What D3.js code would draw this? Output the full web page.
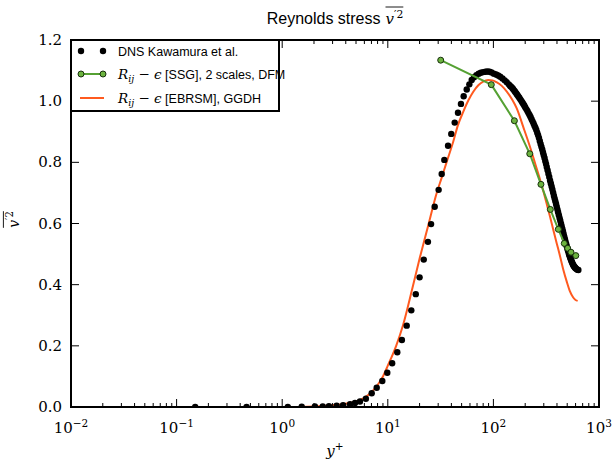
<!DOCTYPE html>
<html>
<head>
<meta charset="utf-8">
<script src="https://cdn.jsdelivr.net/npm/d3@7"></script>
<style>
  body { margin: 0; background: #fff; }
  svg { display: block; }
</style>
</head>
<body>
<script>
// DNS Kawamura et al. (y+, v'2)
const dnsYplus = [0.15, 0.46, 1.13, 1.53, 2.04, 2.42, 2.77, 3.28, 3.77, 4.39, 4.89, 5.45, 6.2, 7.04, 7.85, 8.87, 9.89, 11.0, 12.3, 13.6, 15.1, 16.7, 18.4, 20.0, 21.9, 24.0, 25.7, 27.8, 30.3, 32.4, 34.3, 37.2, 39.9, 43.0, 46.2, 49.3, 52.3, 55.9, 59.2, 62.3,
  65.5, 69, 72.5, 76, 80, 84, 88, 92, 96, 101, 106, 111, 116, 122, 128, 134,
  140, 144, 147, 151, 154, 158, 161, 165, 168, 172, 176, 180, 184, 188, 192, 196,
  200, 205, 210, 215, 220, 225, 230, 235, 240, 245, 250, 255, 260, 265, 270, 275, 280, 285, 290, 295, 300, 305, 310, 315, 320, 326, 332, 338, 344, 350, 356, 362, 368, 374, 380, 386, 392, 398, 404, 410, 417, 424, 430, 437, 443, 450, 456, 463, 469, 476, 482, 489, 495, 502, 508, 515, 521, 528, 534, 541, 547, 554, 560, 567, 573, 580, 586, 593, 599, 612, 625, 638];
const dnsV = [0, 0, 0.0005, 0.001, 0.0015, 0.002, 0.003, 0.004, 0.006, 0.009, 0.013, 0.018, 0.027, 0.045, 0.063, 0.085, 0.112, 0.143, 0.179, 0.219, 0.266, 0.316, 0.369, 0.424, 0.482, 0.540, 0.598, 0.655, 0.710, 0.762, 0.808, 0.854, 0.893, 0.930, 0.962, 0.991, 1.016, 1.038, 1.055, 1.069,
  1.078, 1.085, 1.090, 1.093, 1.095, 1.096, 1.097, 1.096, 1.094, 1.090, 1.087, 1.084, 1.080, 1.074, 1.068, 1.062,
  1.055, 1.050, 1.047, 1.043, 1.039, 1.034, 1.030, 1.025, 1.021, 1.016, 1.011, 1.006, 1.001, 0.996, 0.991, 0.986,
  0.980, 0.974, 0.968, 0.961, 0.955, 0.948, 0.941, 0.934, 0.927, 0.920, 0.913, 0.906, 0.897, 0.889, 0.880, 0.870, 0.860, 0.851, 0.842, 0.832, 0.823, 0.814, 0.804, 0.795, 0.785, 0.774, 0.763, 0.752, 0.741, 0.731, 0.721, 0.711, 0.701, 0.691, 0.682, 0.673, 0.664, 0.655, 0.646, 0.637, 0.627, 0.617, 0.609, 0.599, 0.591, 0.582, 0.574, 0.565, 0.557, 0.549, 0.541, 0.533, 0.526, 0.518, 0.512, 0.505, 0.499, 0.493, 0.488, 0.483, 0.478, 0.474, 0.470, 0.466, 0.463, 0.460, 0.458, 0.456, 0.454, 0.451, 0.449, 0.448];

// Rij-eps [SSG], 2 scales, DFM
const ssgYplus = [31.7, 95.5, 158, 221, 282, 346, 412, 469, 505, 543, 603];
const ssgV = [1.134, 1.054, 0.936, 0.828, 0.728, 0.646, 0.581, 0.535, 0.519, 0.506, 0.495];

// Rij-eps [EBRSM], GGDH
const ebYplus = [0.1, 0.5, 1, 2, 3, 4, 5, 6, 7, 8, 9, 10, 12, 14, 17, 20.2, 24, 29, 32.4, 36, 41.7, 46, 51.9, 58, 64.5, 72, 80, 89.5, 98, 107, 120, 134, 150, 166, 192, 220, 248, 272, 297, 320, 344, 370, 398, 430, 460, 495, 531, 570, 600, 628];
const ebV = [0, 0, 0.0002, 0.002, 0.006, 0.011, 0.018, 0.03, 0.048, 0.072, 0.1, 0.135, 0.2, 0.27, 0.385, 0.491, 0.59, 0.699, 0.75, 0.8, 0.868, 0.92, 0.966, 1.003, 1.031, 1.052, 1.064, 1.069, 1.068, 1.062, 1.05, 1.031, 1.006, 0.977, 0.915, 0.855, 0.797, 0.752, 0.706, 0.664, 0.622, 0.578, 0.535, 0.49, 0.448, 0.41, 0.378, 0.358, 0.35, 0.347];

const xDecades = [-2, -1, 0, 1, 2, 3];
const yTicks = [0.0, 0.2, 0.4, 0.6, 0.8, 1.0, 1.2];

const W = 613, H = 465;
const margin = {left: 71, right: 14, top: 40, bottom: 58};

const svg = d3.select("body").append("svg")
    .attr("width", W)
    .attr("height", H);

const x = d3.scaleLog().domain([1e-2, 1e3]).range([margin.left, W - margin.right]);
const y = d3.scaleLinear().domain([0, 1.2]).range([H - margin.bottom, margin.top]);
const x0 = x.range()[0], x1 = x.range()[1], y0 = y.range()[0], y1 = y.range()[1];

const serif = "'DejaVu Serif', serif";
const sans = "'Liberation Sans', Arial, sans-serif";

const green = "#55a133", greenFill = "#6cb33f", orange = "#ff5a1f";

// clip marks to the axes like matplotlib does
svg.append("defs").append("clipPath").attr("id", "clip")
  .append("rect").attr("x", x0).attr("y", y1).attr("width", x1 - x0).attr("height", y0 - y1);

const plot = svg.append("g").attr("clip-path", "url(#clip)");

// orange curve
plot.append("path")
    .datum(ebYplus.map((d, i) => [d, ebV[i]]))
    .attr("fill", "none")
    .attr("stroke", orange)
    .attr("stroke-width", 2)
    .attr("d", d3.line().x(d => x(d[0])).y(d => y(d[1])).curve(d3.curveMonotoneX));

// DNS dots
plot.selectAll(".dns")
    .data(dnsYplus.map((d, i) => [d, dnsV[i]]))
    .enter().append("circle")
    .attr("class", "dns")
    .attr("cx", d => x(d[0]))
    .attr("cy", d => y(d[1]))
    .attr("r", 3.2)
    .attr("fill", "#000");

// green line + markers
const ssg = ssgYplus.map((d, i) => [d, ssgV[i]]);
plot.append("path")
    .datum(ssg)
    .attr("fill", "none")
    .attr("stroke", green)
    .attr("stroke-width", 2)
    .attr("d", d3.line().x(d => x(d[0])).y(d => y(d[1])));
plot.selectAll(".ssg")
    .data(ssg)
    .enter().append("circle")
    .attr("cx", d => x(d[0]))
    .attr("cy", d => y(d[1]))
    .attr("r", 3)
    .attr("fill", greenFill)
    .attr("stroke", "#17300c")
    .attr("stroke-width", 1);

// ticks
const ax = svg.append("g").attr("stroke", "#000");
const minors = [];
xDecades.slice(0, -1).forEach(e => { for (let k = 2; k <= 9; k++) minors.push(k * Math.pow(10, e)); });

xDecades.forEach(e => {
  const px = x(Math.pow(10, e));
  ax.append("line").attr("x1", px).attr("x2", px).attr("y1", y0).attr("y2", y0 - 8).attr("stroke-width", 1);
  ax.append("line").attr("x1", px).attr("x2", px).attr("y1", y1).attr("y2", y1 + 8).attr("stroke-width", 1);
});
minors.forEach(v => {
  const px = x(v);
  ax.append("line").attr("x1", px).attr("x2", px).attr("y1", y0).attr("y2", y0 - 4).attr("stroke-width", 1);
  ax.append("line").attr("x1", px).attr("x2", px).attr("y1", y1).attr("y2", y1 + 4).attr("stroke-width", 1);
});
yTicks.forEach(v => {
  const py = y(v);
  ax.append("line").attr("x1", x0).attr("x2", x0 + 8).attr("y1", py).attr("y2", py).attr("stroke-width", 1);
  ax.append("line").attr("x1", x1).attr("x2", x1 - 8).attr("y1", py).attr("y2", py).attr("stroke-width", 1);
});

// frame
svg.append("rect")
    .attr("x", x0).attr("y", y1)
    .attr("width", x1 - x0).attr("height", y0 - y1)
    .attr("fill", "none").attr("stroke", "#000").attr("stroke-width", 2);

// tick labels
yTicks.forEach(v => {
  svg.append("text")
      .attr("x", x0 - 9).attr("y", y(v) + 5)
      .attr("text-anchor", "end")
      .attr("font-family", serif).attr("font-size", 15)
      .text(v.toFixed(1));
});
xDecades.forEach(e => {
  const t = svg.append("text")
      .attr("x", x(Math.pow(10, e))).attr("y", y0 + 26)
      .attr("text-anchor", "middle")
      .attr("font-family", serif).attr("font-size", 15);
  t.append("tspan").text("10");
  t.append("tspan").attr("dy", -6).attr("font-size", 10.5).text(e < 0 ? "\u2212" + (-e) : e);
});

// axis labels
const xl = svg.append("text")
    .attr("x", (x0 + x1) / 2).attr("y", 456)
    .attr("text-anchor", "middle")
    .attr("font-family", serif).attr("font-size", 15);
xl.append("tspan").attr("font-style", "italic").text("y");
xl.append("tspan").attr("dy", -6).attr("font-size", 10.5).text("+");

function vbar(g, size) {
  // overlined v'^2
  const t = g.append("text").attr("font-family", serif).attr("font-size", size);
  t.append("tspan").attr("font-style", "italic").text("v");
  t.append("tspan").attr("dy", -size * 0.4).attr("font-size", size * 0.72).text("\u20322");
  const bb = t.node().getBBox();
  g.append("line")
      .attr("x1", bb.x).attr("x2", bb.x + bb.width)
      .attr("y1", bb.y - 1).attr("y2", bb.y - 1)
      .attr("stroke", "#000").attr("stroke-width", 0.9);
  return bb;
}

const yl = svg.append("g");
const ybb = vbar(yl, 14);
yl.attr("transform", `translate(19,${(y0 + y1) / 2 - 4}) rotate(-90) translate(${-ybb.width / 2},0)`);

// title
const title = svg.append("g");
const tt = title.append("text")
    .attr("font-family", sans).attr("font-size", 16)
    .text("Reynolds stress");
const tw = tt.node().getComputedTextLength() + 5;
const tv = title.append("g").attr("transform", `translate(${tw},0)`);
const tvb = vbar(tv, 15);
title.attr("transform", `translate(${(x0 + x1) / 2 - (tw + tvb.width) / 2},24)`);

// legend
const lg = svg.append("g");
lg.append("rect")
    .attr("x", x0).attr("y", y1).attr("width", 208).attr("height", 71)
    .attr("fill", "#fff").attr("stroke", "#000").attr("stroke-width", 2);
const rows = [51, 74, 98];
[81, 103].forEach(px => lg.append("circle").attr("cx", px).attr("cy", rows[0]).attr("r", 3.2).attr("fill", "#000"));
lg.append("line").attr("x1", 81).attr("x2", 103).attr("y1", rows[1]).attr("y2", rows[1]).attr("stroke", green).attr("stroke-width", 2);
[81, 103].forEach(px => lg.append("circle").attr("cx", px).attr("cy", rows[1]).attr("r", 3)
    .attr("fill", greenFill).attr("stroke", "#17300c").attr("stroke-width", 1));
lg.append("line").attr("x1", 80).attr("x2", 104).attr("y1", rows[2]).attr("y2", rows[2]).attr("stroke", orange).attr("stroke-width", 2);

lg.append("text").attr("x", 118).attr("y", rows[0] + 4.5)
    .attr("font-family", sans).attr("font-size", 12.5)
    .text("DNS Kawamura et al.");

function mathLabel(py, rest) {
  const t = lg.append("text").attr("x", 118).attr("y", py + 4.5).attr("font-size", 13.5);
  t.append("tspan").attr("font-family", serif).attr("font-style", "italic").text("R");
  t.append("tspan").attr("font-family", serif).attr("font-style", "italic").attr("font-size", 9.5).attr("dy", 3).text("ij");
  t.append("tspan").attr("font-family", serif).attr("dy", -3).text(" \u2212 ");
  t.append("tspan").attr("font-family", serif).attr("font-style", "italic").text("\u03f5");
  t.append("tspan").attr("font-family", sans).attr("font-size", 12.5).text(rest);
}
mathLabel(rows[1], " [SSG], 2 scales, DFM");
mathLabel(rows[2], " [EBRSM], GGDH");
</script>
</body>
</html>
